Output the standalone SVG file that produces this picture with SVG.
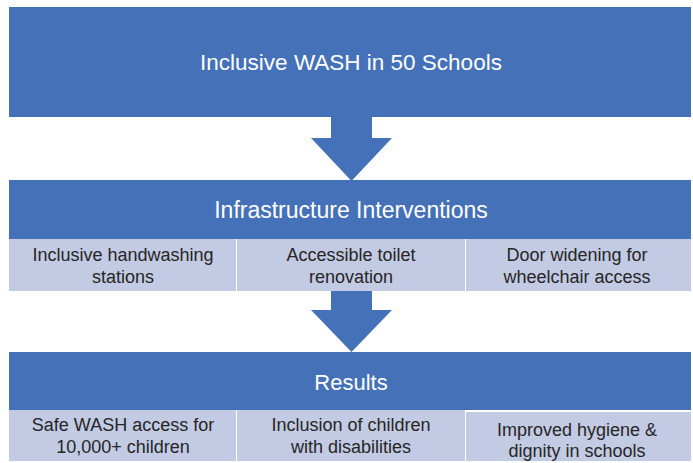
<svg xmlns="http://www.w3.org/2000/svg" width="693" height="463" viewBox="0 0 693 463">
<style>
.hdr{fill:#4571B8;}
.sub{fill:#C3CAE3;}
.arrow{fill:#4571B8;}
.ht{font-family:"Liberation Sans",Arial,sans-serif;fill:#FFFFFF;text-anchor:middle;}
.st{font-family:"Liberation Sans",Arial,sans-serif;fill:#262626;text-anchor:middle;font-size:18px;}
</style>
<rect width="693" height="463" fill="#FFFFFF"/>
<g id="top">
<rect class="hdr" x="9" y="7" width="682" height="110"/>
<text class="ht" x="351" y="70" font-size="22.5">Inclusive WASH in 50 Schools</text>
</g>
<g id="connectors">
<path class="arrow" d="M331,116 L372,116 L372,138 L392,138 L351.5,181 L311,138 L331,138 Z"/>
<path class="arrow" d="M331,290 L372,290 L372,310 L392,310 L351.5,352 L311,310 L331,310 Z"/>
</g>
<g id="infra">
<rect class="hdr" x="9" y="180" width="682" height="59"/>
<text class="ht" x="351" y="218" font-size="23">Infrastructure Interventions</text>
</g>
<g id="infra-1">
<rect class="sub" x="9" y="239" width="227" height="52"/>
<text class="st" x="123" y="261">Inclusive handwashing</text>
<text class="st" x="123" y="283">stations</text>
</g>
<g id="infra-2">
<rect class="sub" x="237" y="239" width="228" height="52"/>
<text class="st" x="351" y="261">Accessible toilet</text>
<text class="st" x="351" y="283">renovation</text>
</g>
<g id="infra-3">
<rect class="sub" x="466" y="239" width="225" height="52"/>
<text class="st" x="577" y="261">Door widening for</text>
<text class="st" x="577" y="283">wheelchair access</text>
</g>
<g id="results">
<rect class="hdr" x="9" y="352" width="682" height="58"/>
<text class="ht" x="351" y="390" font-size="22">Results</text>
</g>
<g id="res-1">
<rect class="sub" x="9" y="410" width="227" height="51"/>
<text class="st" x="123" y="431">Safe WASH access for</text>
<text class="st" x="123" y="453">10,000+ children</text>
</g>
<g id="res-2">
<rect class="sub" x="237" y="410" width="228" height="51"/>
<text class="st" x="351" y="431">Inclusion of children</text>
<text class="st" x="351" y="453">with disabilities</text>
</g>
<g id="res-3">
<rect class="sub" x="466" y="412" width="225" height="49"/>
<text class="st" x="577" y="436">Improved hygiene &amp;</text>
<text class="st" x="577" y="457">dignity in schools</text>
</g>
</svg>
